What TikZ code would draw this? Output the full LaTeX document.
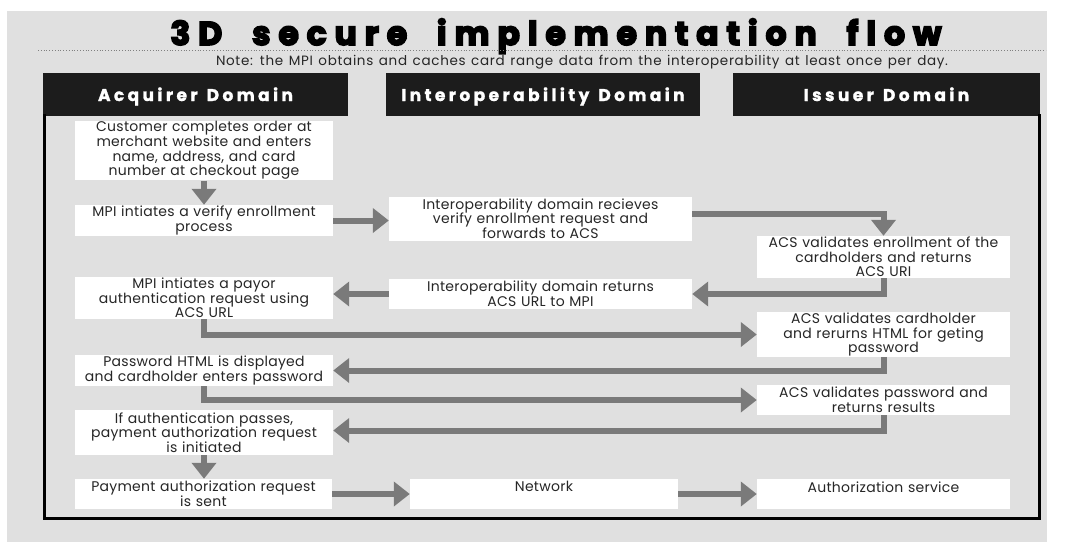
\documentclass[tikz,border=0pt]{standalone}
\usepackage{fontspec}
\setmainfont{Poppins}
\newfontfamily\titlefont{Poppins}[LetterSpace=24,WordSpace=2,BoldFeatures={FakeBold=5}]
\newfontfamily\hdrfont{Poppins}[LetterSpace=20,WordSpace=1.3,BoldFeatures={FakeBold=1.5}]
\newfontfamily\bodyfont{Poppins}[LetterSpace=2,WordSpace=1.4]
\newfontfamily\notefont{Poppins}[LetterSpace=5,WordSpace=1.3]
\usetikzlibrary{arrows.meta}
\definecolor{bg}{HTML}{E0E0E0}
\definecolor{hdr}{HTML}{1C1C1C}
\definecolor{arr}{HTML}{7A7A7A}
\definecolor{txt}{HTML}{262626}
\begin{document}
\begin{tikzpicture}[x=1pt,y=-1pt,
  box/.style={fill=white, inner sep=1pt, align=center, text=txt,
    font=\bodyfont\fontsize{14}{14.6}\selectfont},
  hdrbox/.style={fill=hdr, text=white, inner sep=0pt, text height=14pt, text depth=1pt,
    font=\hdrfont\fontsize{17}{19}\selectfont\bfseries},
  flow/.style={draw=arr, line width=6pt, -{Triangle[width=24pt,length=16pt]}},
]
\useasboundingbox (0,0) rectangle (1066,542);
\fill[white] (0,0) rectangle (1066,542);
\fill[bg] (7,11) rectangle (1047,542);

\node[font=\titlefont\fontsize{33}{36}\selectfont\bfseries, text=black, inner sep=0pt, anchor=base] (title) at (556,45) {3D secure implementation flow};
\draw[gray, dotted, line width=0.8pt] (38,50) -- (1046,50);
\node[font=\notefont\fontsize{13.5}{15}\selectfont, text=txt, inner sep=0pt] (note) at (582,62) {Note: the MPI obtains and caches card range data from the interoperability at least once per day.};

\node[hdrbox, minimum width=305pt, minimum height=43pt] (h1) at (195.5,94.5) {Acquirer Domain};
\node[hdrbox, minimum width=314pt, minimum height=43pt] (h2) at (543,94.5) {Interoperability Domain};
\node[hdrbox, minimum width=307pt, minimum height=43pt] (h3) at (886.5,94.5) {Issuer Domain};
\draw[black, line width=3pt] (44.5,114) -- (44.5,518.5) -- (1039.5,518.5) -- (1039.5,114);

\node[box, minimum width=258pt, minimum height=59pt, text width=256pt] (b1) at (204,150.5) {Customer completes order at\\ merchant website and enters\\ name, address, and card\\ number at checkout page};
\node[box, minimum width=258pt, minimum height=31pt, text width=256pt] (b2) at (204,220.5) {MPI intiates a verify enrollment\\ process};
\node[box, minimum width=303pt, minimum height=44pt, text width=301pt] (b3) at (540.5,218.5) {Interoperability domain recieves\\ verify enrollment request and\\ forwards to ACS};
\node[box, minimum width=253pt, minimum height=42pt, text width=251pt] (b4) at (883.5,257) {ACS validates enrollment of the\\ cardholders and returns\\ ACS URI};
\node[box, minimum width=303pt, minimum height=30pt, text width=301pt] (b5) at (540.5,294) {Interoperability domain returns\\ ACS URL to MPI};
\node[box, minimum width=258pt, minimum height=41pt, text width=256pt] (b6) at (204,298) {MPI intiates a payor\\ authentication request using\\ ACS URL};
\node[box, minimum width=253pt, minimum height=43pt, text width=251pt] (b7) at (883.5,334.5) {ACS validates cardholder\\ and rerurns HTML for geting\\ password};
\node[box, minimum width=258pt, minimum height=29pt, text width=256pt] (b8) at (204,370.5) {Password HTML is displayed\\ and cardholder enters password};
\node[box, minimum width=253pt, minimum height=30pt, text width=251pt] (b9) at (883.5,400) {ACS validates password and\\ returns results};
\node[box, minimum width=258pt, minimum height=45pt, text width=256pt] (b10) at (204,432.5) {If authentication passes,\\ payment authorization request\\ is initiated};
\node[box, minimum width=257pt, minimum height=30pt, text width=255pt] (b11) at (203.5,494) {Payment authorization request\\ is sent};
\node[box, minimum width=268pt, minimum height=30pt, text width=266pt] (b12) at (544,494) {Network\\ \mbox{}};
\node[box, minimum width=253pt, minimum height=30pt, text width=251pt] (b13) at (883.5,494) {Authorization service\\ \mbox{}};

\draw[flow] (b1.south) -- (b2.north);
\draw[flow] (b2.east) -- (b2.east -| b3.west);
\draw[flow] ([yshift=5pt]b3.east) -| (b4.north);
\draw[flow] (b4.south) |- (b5.east);
\draw[flow] (b5.west) -- (b5.west -| b6.east);
\draw[flow] (b6.south) |- (b7.west);
\draw[flow] (b7.south) |- (b8.east);
\draw[flow] (b8.south) |- (b9.west);
\draw[flow] (b9.south) |- ([yshift=2pt]b10.east);
\draw[flow] (b10.south) -- (b10.south |- b11.north);
\draw[flow] (b11.east) -- (b12.west);
\draw[flow] (b12.east) -- (b13.west);
\end{tikzpicture}
\end{document}
